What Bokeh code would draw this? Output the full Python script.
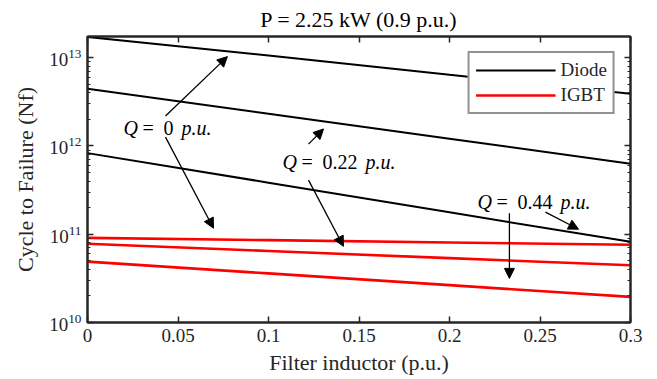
from bokeh.plotting import figure
from bokeh.models import (LinearAxis, LogAxis, FixedTicker, Range1d, Legend, LegendItem,
                          Arrow, NormalHead, Label)
from bokeh.embed import file_html
from bokeh.resources import INLINE

# ---- data ----
inductor = [0.0, 0.1, 0.2, 0.3]
diode_q0 = [1.72e13, 1.06e13, 6.4e12, 3.9e12]
diode_q022 = [4.45e12, 2.32e12, 1.21e12, 6.3e11]
diode_q044 = [8.3e11, 3.84e11, 1.77e11, 8.2e10]
igbt_q0 = [9.1e10, 8.57e10, 8.07e10, 7.6e10]
igbt_q022 = [7.8e10, 6.47e10, 5.36e10, 4.45e10]
igbt_q044 = [4.9e10, 3.6e10, 2.65e10, 1.95e10]

x_ticks = [0, 0.05, 0.1, 0.15, 0.2, 0.25, 0.3]
x_tick_labels = ["0", "0.05", "0.1", "0.15", "0.2", "0.25", "0.3"]
y_ticks = [1e10, 1e11, 1e12, 1e13]

# annotation texts (Q values) and positions (data coordinates, left edge of "Q")
ann_q = ["0", "0.22", "0.44"]
ann_x = [0.0199, 0.1077, 0.2155]
ann_y = [1.6e12, 6.58e11, 2.3e11]
arr_x0 = [0.0431, 0.0431, 0.1221, 0.1221, 0.2530, 0.2331]
arr_y0 = [2.19e12, 1.26e12, 1.05e12, 4.1e11, 1.78e11, 1.73e11]
arr_x1 = [0.0773, 0.0696, 0.1304, 0.1414, 0.2713, 0.2331]
arr_y1 = [1.03e13, 1.17e11, 1.56e12, 7.3e10, 1.14e11, 3.16e10]

FONT = "Liberation Serif"
AX = "#262626"
ANN_SIZE = 20

minor = [m * 10 ** e for e in (10, 11, 12) for m in range(2, 10)]

p = figure(width=653, height=377, y_axis_type="log", output_backend="svg",
           toolbar_location=None, x_range=Range1d(0, 0.3), y_range=Range1d(1e10, 1.74e13),
           min_border_left=87, min_border_right=23, min_border_top=0, min_border_bottom=0)
p.title.text = "P = 2.25 kW (0.9 p.u.)"
p.title.align = "center"
p.title.text_font = FONT
p.title.text_font_size = "22px"
p.title.text_font_style = "normal"
p.title.text_color = "black"
p.title.standoff = 9
p.title.offset = 0
p.xgrid.visible = False
p.ygrid.visible = False
p.outline_line_color = AX
p.outline_line_width = 2

def style_axis(ax, labels=True):
    ax.axis_line_color = AX
    ax.axis_line_width = 2
    ax.major_tick_line_color = AX
    ax.minor_tick_line_color = AX
    ax.major_tick_line_width = 1.5
    ax.major_tick_in = 6
    ax.major_tick_out = 0
    ax.minor_tick_in = 3
    ax.minor_tick_out = 0
    ax.major_label_text_font = FONT
    if labels:
        ax.major_label_text_color = AX
        ax.major_label_text_font_size = "19px"
        ax.major_label_standoff = 6
    else:
        ax.major_label_text_color = None
        ax.major_label_text_font_size = "2px"
        ax.major_label_standoff = 0

xa = p.xaxis[0]
xa.ticker = FixedTicker(ticks=x_ticks)
xa.major_label_overrides = {t: l for t, l in zip(x_ticks, x_tick_labels)}
style_axis(xa)
xa.axis_label = "Filter inductor (p.u.)"
xa.axis_label_text_font = FONT
xa.axis_label_text_font_size = "22px"
xa.axis_label_text_font_style = "normal"
xa.axis_label_text_color = AX
xa.axis_label_standoff = 5

ya = p.yaxis[0]
ya.ticker = FixedTicker(ticks=y_ticks, minor_ticks=minor)
style_axis(ya)
ya.axis_label = "Cycle to Failure (Nf)"
ya.axis_label_text_font = FONT
ya.axis_label_text_font_size = "22px"
ya.axis_label_text_font_style = "normal"
ya.axis_label_text_color = AX
ya.axis_label_standoff = 8

top = LinearAxis(ticker=FixedTicker(ticks=x_ticks))
style_axis(top, labels=False)
p.add_layout(top, "above")
right = LogAxis(ticker=FixedTicker(ticks=y_ticks, minor_ticks=minor))
style_axis(right, labels=False)
p.add_layout(right, "right")

r_d = [p.line(inductor, s, line_color="black", line_width=2)
       for s in (diode_q0, diode_q022, diode_q044)]
r_i = [p.line(inductor, s, line_color="red", line_width=2.6)
       for s in (igbt_q0, igbt_q022, igbt_q044)]

for x0, y0, x1, y1 in zip(arr_x0, arr_y0, arr_x1, arr_y1):
    p.add_layout(Arrow(end=NormalHead(size=10, fill_color="black", line_color="black"),
                       x_start=x0, y_start=y0, x_end=x1, y_end=y1,
                       line_color="black", line_width=1.3))

# approximate advance widths (em) of Liberation Serif, for placing mixed-style pieces
def num_width(s):
    return sum(0.25 if c == "." else 0.5 for c in s) * ANN_SIZE

for q, x, y in zip(ann_q, ann_x, ann_y):
    pieces = [("Q", "italic", 0),
              ("=", "normal", 19),
              (q, "normal", 40),
              ("p.u.", "italic", 40 + num_width(q) + 8)]
    for txt, style, off in pieces:
        p.add_layout(Label(x=x, y=y, x_offset=off, text=txt, text_font=FONT,
                           text_font_size=f"{ANN_SIZE}px", text_font_style=style,
                           text_align="left", text_baseline="middle", text_color="black"))

legend = Legend(items=[LegendItem(label="Diode", renderers=[r_d[0]]),
                       LegendItem(label="IGBT", renderers=[r_i[0]])],
                location="top_right", margin=15)
legend.glyph_width = 80
legend.glyph_height = 20
legend.label_height = 20
legend.spacing = 3
legend.padding = 6
legend.label_text_font = FONT
legend.label_text_font_size = "19px"
legend.label_text_color = AX
legend.border_line_color = AX
legend.border_line_width = 2
legend.background_fill_alpha = 1.0
p.add_layout(legend, "center")

open("out.html", "w").write(file_html(p, INLINE))
